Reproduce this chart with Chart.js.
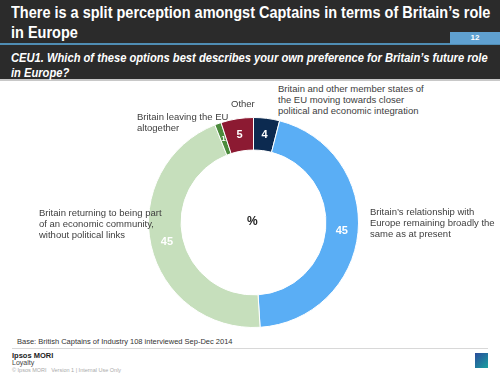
<!DOCTYPE html>
<html>
<head>
<meta charset="utf-8">
<script src="https://cdn.jsdelivr.net/npm/chart.js@4.4.0/dist/chart.umd.min.js"></script>
<style>
  body { margin: 0; background: #fff; font-family: Arial, "Liberation Sans", sans-serif; }
  #page { position: relative; width: 500px; height: 375px; overflow: hidden; background: #fff; }
  .band { position: absolute; left: 0; width: 500px; background: #2b2b2b; }
  .title { position: absolute; left: 11px; top: 3px; color: #fff; font-weight: bold; font-size: 17px; line-height: 20px; white-space: nowrap; transform-origin: 0 0; }
  .sub { position: absolute; left: 11px; top: 50px; color: #fff; font-weight: bold; font-style: italic; font-size: 13.5px; line-height: 15px; white-space: nowrap; transform-origin: 0 0; }
  .lbl { position: absolute; color: #404040; font-size: 9.5px; line-height: 11px; white-space: nowrap; }
  .foot { position: absolute; white-space: nowrap; }
</style>
</head>
<body>
<div id="page">
  <div class="band" style="top:0;height:43px;"></div>
  <div class="band" style="top:43px;height:2px;background:#4f8db4;"></div>
  <div style="position:absolute;left:450px;top:32px;width:50px;height:12px;background:#5fa0d0;color:#fff;font-size:8px;line-height:12px;text-align:center;font-weight:bold;">12</div>
  <div class="band" style="top:45px;height:34px;"></div>
  <div class="band" style="top:79px;height:2px;background:#c8c8c8;"></div>
  <div class="title fit" data-w="479">There is a split perception amongst Captains in terms of Britain’s role<br>in Europe</div>
  <div class="sub fit" data-w="477">CEU1. Which of these options best describes your own preference for Britain’s future role<br>in Europe?</div>

  <div style="position:absolute;left:148px;top:117px;width:211px;height:211px;">
    <canvas id="chart"></canvas>
  </div>

  <div class="lbl" style="left:278px;top:83px;">Britain and other member states of<br>the EU moving towards closer<br>political and economic integration</div>
  <div class="lbl" style="left:231px;top:98px;">Other</div>
  <div class="lbl" style="left:137px;top:111px;">Britain leaving the EU<br>altogether</div>
  <div class="lbl" style="left:39px;top:207px;">Britain returning to being part<br>of an economic community,<br>without political links</div>
  <div class="lbl" style="left:370px;top:206px;">Britain’s relationship with<br>Europe remaining broadly the<br>same as at present</div>
  <div style="position:absolute;left:247px;top:214px;font-size:12px;font-weight:bold;color:#222;">%</div>

  <div class="foot" style="left:17px;top:337px;font-size:7.5px;color:#333;">Base: British Captains of Industry 108 interviewed Sep-Dec 2014</div>
  <div style="position:absolute;left:12px;top:348px;width:476px;height:1px;background:#d8d8d8;"></div>
  <div class="foot" style="left:12px;top:351px;font-size:7.5px;font-weight:bold;color:#222;">Ipsos MORI</div>
  <div class="foot" style="left:12px;top:359px;font-size:7px;color:#444;">Loyalty</div>
  <div class="foot" style="left:12px;top:367px;font-size:5.5px;color:#aaa;">© Ipsos MORI &nbsp; Version 1 | Internal Use Only</div>
  <div style="position:absolute;left:475px;top:353px;width:13px;height:15px;background:linear-gradient(135deg,#2a4b9b,#1aa0a0);"></div>
</div>

<script>
// squeeze the header lines to the width they have in the slide
document.querySelectorAll(".fit").forEach(el => {
  const w = el.scrollWidth;
  const target = Number(el.dataset.w);
  if (w > target) el.style.transform = "scaleX(" + (target / w) + ")";
});

const categories = [
  "Britain and other member states of the EU moving towards closer political and economic integration",
  "Britain’s relationship with Europe remaining broadly the same as at present",
  "Britain returning to being part of an economic community, without political links",
  "Britain leaving the EU altogether",
  "Other"
];
const values = [4, 45, 45, 1, 5];
const sliceColors = ["#0c2a50", "#5aaef5", "#c6dfbc", "#4b8a3c", "#8c1a32"];

// white value numbers in the middle of each slice
const valueLabels = {
  id: "valueLabels",
  afterDatasetsDraw(chart) {
    const ctx = chart.ctx;
    const meta = chart.getDatasetMeta(0);
    ctx.save();
    ctx.fillStyle = "#fff";
    ctx.textAlign = "center";
    ctx.textBaseline = "middle";
    meta.data.forEach((arc, i) => {
      const p = arc.tooltipPosition();
      ctx.font = values[i] < 2 ? "bold 8px Arial" : "bold 11px Arial";
      ctx.fillText(String(values[i]), p.x, p.y);
    });
    ctx.restore();
  }
};

new Chart(document.getElementById("chart"), {
  type: "doughnut",
  data: {
    labels: categories,
    datasets: [{
      data: values,
      backgroundColor: sliceColors,
      borderColor: "#fff",
      borderWidth: 1
    }]
  },
  options: {
    responsive: true,
    maintainAspectRatio: false,
    animation: false,
    cutout: "69%",
    layout: { padding: 0 },
    plugins: {
      legend: { display: false },
      tooltip: { enabled: false }
    }
  },
  plugins: [valueLabels]
});
</script>
</body>
</html>
